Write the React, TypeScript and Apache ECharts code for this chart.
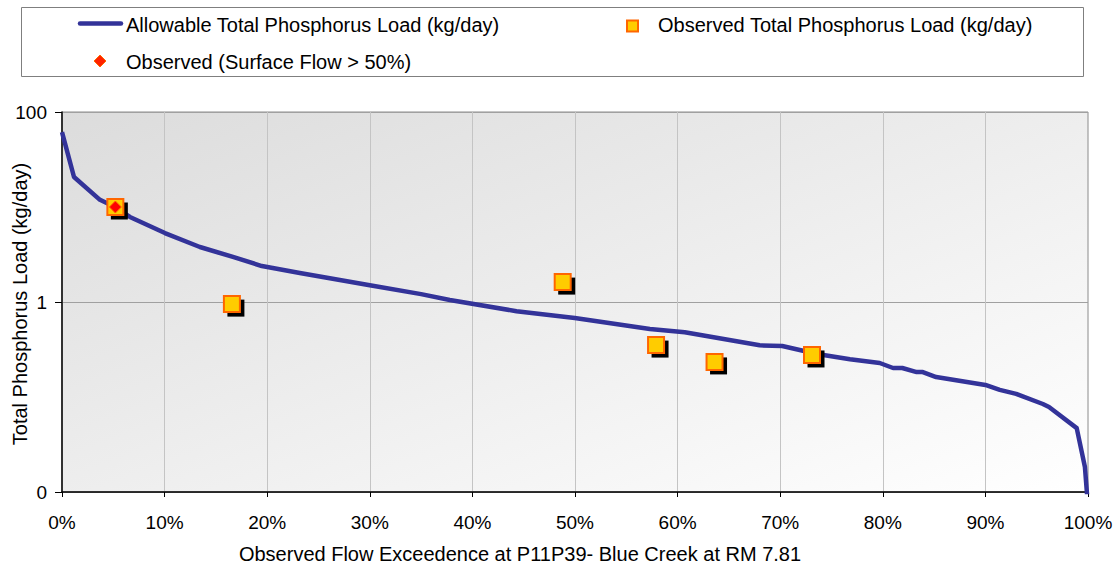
import React, { useEffect, useRef } from "react";
import * as echarts from "echarts";

// Allowable load curve: [flow exceedence fraction, load kg/day]
const allowableX = [0, 0.0117, 0.037, 0.0516, 0.0662, 0.1003, 0.1344, 0.1666, 0.1948, 0.2318, 0.3, 0.35, 0.378, 0.443, 0.4998, 0.573, 0.607, 0.68, 0.702, 0.736, 0.768, 0.797, 0.81, 0.819, 0.833, 0.839, 0.852, 0.9, 0.914, 0.93, 0.956, 0.962, 0.989, 0.997, 1.0];
const allowableY = [61.5, 20.7, 11.9, 10.0, 7.85, 5.32, 3.79, 2.98, 2.39, 2.02, 1.5, 1.21, 1.05, 0.8, 0.68, 0.52, 0.48, 0.35, 0.344, 0.284, 0.25, 0.228, 0.202, 0.202, 0.183, 0.183, 0.162, 0.134, 0.119, 0.108, 0.0844, 0.0785, 0.047, 0.0183, 0.007];

const observedX = [0.052, 0.1656, 0.488, 0.579, 0.636, 0.731];
const observedY = [10.0, 0.95, 1.62, 0.352, 0.234, 0.277];

const surfaceX = [0.052];
const surfaceY = [10.0];

const nameLine = "Allowable Total Phosphorus Load (kg/day)";
const nameObs = "Observed Total Phosphorus Load (kg/day)";
const nameSurf = "Observed (Surface Flow > 50%)";
const xTitle = "Observed Flow Exceedence at P11P39- Blue Creek at RM 7.81";
const yTitle = "Total Phosphorus Load (kg/day)";

const FONT = "'Liberation Sans', Arial, sans-serif";

export default function App() {
  const ref = useRef<HTMLDivElement>(null);
  useEffect(() => {
    if (!ref.current) return;
    const chart = echarts.init(ref.current, null, { renderer: "svg" });
    const lineData = allowableX.map((x, i) => [x, allowableY[i]]);
    const obsData = observedX.map((x, i) => [x, observedY[i]]);
    const surfData = surfaceX.map((x, i) => [x, surfaceY[i]]);
    chart.setOption({
      animation: false,
      backgroundColor: "#ffffff",
      textStyle: { fontFamily: FONT },
      grid: {
        left: 62,
        right: 32,
        top: 112,
        bottom: 75,
        containLabel: false,
        outerBoundsMode: "none",
        show: true,
        borderColor: "#8c8c8c",
        borderWidth: 1,
        backgroundColor: new echarts.graphic.LinearGradient(0, 0, 1, 1, [
          { offset: 0, color: "#dcdcdc" },
          { offset: 1, color: "#ffffff" },
        ]),
      },
      xAxis: {
        type: "value",
        min: 0,
        max: 1,
        interval: 0.1,
        name: xTitle,
        nameLocation: "middle",
        nameGap: 52,
        nameTextStyle: { fontSize: 20, color: "#000", fontFamily: FONT, padding: [0, 110, 0, 0] },
        axisLine: { show: true, lineStyle: { color: "#000", width: 1.5 } },
        axisTick: { show: true, length: 5, lineStyle: { color: "#000" } },
        axisLabel: {
          fontSize: 19,
          color: "#000",
          margin: 21,
          fontFamily: FONT,
          formatter: (v: number) => Math.round(v * 100) + "%",
        },
        splitLine: { show: true, lineStyle: { color: "#c4c4c4", width: 1 } },
      },
      yAxis: {
        type: "log",
        logBase: 100,
        min: 0.01,
        max: 100,
        axisLine: { show: true, lineStyle: { color: "#000", width: 1.5 } },
        axisTick: { show: true, length: 7, lineStyle: { color: "#000" } },
        minorTick: { show: false },
        axisLabel: {
          fontSize: 19,
          color: "#000",
          margin: 15,
          fontFamily: FONT,
          formatter: (v: number) => (v >= 1 ? String(Math.round(v)) : "0"),
        },
        splitLine: { show: true, lineStyle: { color: "#a0a0a0", width: 1 } },
      },
      series: [
        {
          name: nameLine,
          type: "line",
          data: lineData,
          showSymbol: false,
          symbol: "none",
          clip: true,
          lineStyle: { color: "#333399", width: 4.5, join: "round" },
          z: 2,
        },
        {
          name: "shadow",
          type: "scatter",
          data: obsData,
          symbol: "rect",
          symbolSize: 17,
          symbolOffset: [4, 4],
          itemStyle: { color: "#000000", borderWidth: 0, opacity: 1 },
          silent: true,
          z: 3,
        },
        {
          name: nameObs,
          type: "scatter",
          data: obsData,
          symbol: "rect",
          symbolSize: 16,
          itemStyle: { color: "#FFCC00", borderColor: "#FF6600", borderWidth: 2, opacity: 1 },
          z: 4,
        },
        {
          name: nameSurf,
          type: "scatter",
          data: surfData,
          symbol: "diamond",
          symbolSize: 12,
          itemStyle: { color: "#FF0000", borderColor: "#FF6600", borderWidth: 1, opacity: 1 },
          z: 5,
        },
      ],
      graphic: [
        {
          type: "text",
          x: 20,
          y: 304,
          rotation: Math.PI / 2,
          style: {
            text: yTitle,
            font: `20px ${FONT}`,
            fill: "#000",
            textAlign: "center",
            textVerticalAlign: "middle",
          },
          z: 11,
        },
        {
          type: "rect",
          shape: { x: 21.5, y: 7.5, width: 1062, height: 69 },
          style: { fill: "#ffffff", stroke: "#7f7f7f", lineWidth: 1 },
          z: 10,
        },
        {
          type: "line",
          shape: { x1: 80, y1: 23.5, x2: 121, y2: 23.5 },
          style: { stroke: "#333399", lineWidth: 4.5, lineCap: "round" },
          z: 11,
        },
        {
          type: "text",
          x: 126,
          y: 25,
          style: { text: nameLine, font: `20px ${FONT}`, fill: "#000", textVerticalAlign: "middle" },
          z: 11,
        },
        {
          type: "rect",
          shape: { x: 627, y: 20.5, width: 11, height: 11 },
          style: { fill: "#FFCC00", stroke: "#FF6600", lineWidth: 2 },
          z: 11,
        },
        {
          type: "text",
          x: 658,
          y: 25,
          style: { text: nameObs, font: `20px ${FONT}`, fill: "#000", textVerticalAlign: "middle" },
          z: 11,
        },
        {
          type: "polygon",
          shape: { points: [[100, 55], [106, 61], [100, 67], [94, 61]] },
          style: { fill: "#FF2200", stroke: "#FF6600", lineWidth: 1 },
          z: 11,
        },
        {
          type: "text",
          x: 126,
          y: 62,
          style: { text: nameSurf, font: `20px ${FONT}`, fill: "#000", textVerticalAlign: "middle" },
          z: 11,
        },
      ],
    });
    return () => chart.dispose();
  }, []);
  return (
    <div
      ref={ref}
      style={{ position: "fixed", left: 0, top: 0, width: 1120, height: 567 }}
    />
  );
}
